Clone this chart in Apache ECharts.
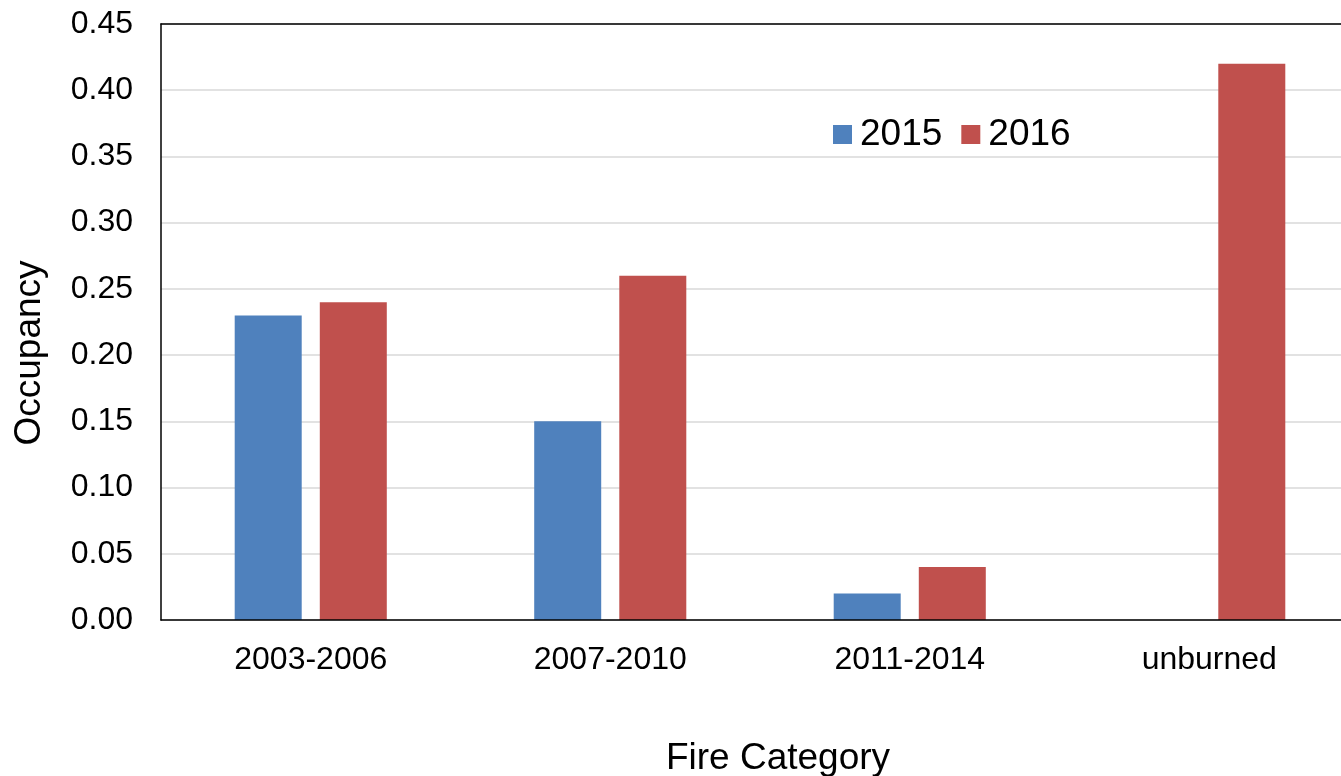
<!DOCTYPE html>
<html>
<head>
<meta charset="utf-8">
<script src="https://cdn.jsdelivr.net/npm/echarts@6/dist/echarts.min.js"></script>
<style>
html,body{margin:0;padding:0;background:#fff;overflow:hidden;width:1341px;height:776px;}
#chart{width:1380px;height:776px;}
</style>
</head>
<body>
<div id="chart"></div>
<script>
const categories = ['2003-2006', '2007-2010', '2011-2014', 'unburned'];
const seriesNames = ['2015', '2016'];
const values2015 = [0.23, 0.15, 0.02, 0];
const values2016 = [0.24, 0.26, 0.04, 0.42];
const yTicks = { min: 0, max: 0.45, interval: 0.05 };
const yTitle = 'Occupancy';
const xTitle = 'Fire Category';

const FONT = '"Liberation Sans", Arial, sans-serif';
const chart = echarts.init(document.getElementById('chart'), null, { renderer: 'canvas' });
chart.setOption({
  animation: false,
  backgroundColor: '#ffffff',
  textStyle: { fontFamily: FONT },
  grid: { left: 161, top: 24, width: 1198, height: 596, containLabel: false },
  legend: {
    data: seriesNames,
    left: 828, top: 111,
    itemWidth: 19, itemHeight: 19, itemGap: 19,
    icon: 'rect',
    textStyle: { fontSize: 37, color: '#000', fontFamily: FONT, padding: [0, 0, 0, 3] }
  },
  xAxis: [{
    type: 'category',
    data: categories,
    axisLine: { lineStyle: { color: '#000', width: 1.5 } },
    axisTick: { show: false },
    axisLabel: { color: '#000', fontSize: 32, margin: 24, fontFamily: FONT },
    splitLine: { show: false },
    z: 5
  }, {
    type: 'category',
    position: 'top',
    data: categories,
    axisLine: { lineStyle: { color: '#000', width: 1.5 } },
    axisTick: { show: false },
    axisLabel: { show: false },
    splitLine: { show: false },
    z: 5
  }],
  yAxis: {
    type: 'value',
    min: yTicks.min, max: yTicks.max, interval: yTicks.interval,
    axisLine: { show: true, lineStyle: { color: '#000', width: 1.5 } },
    axisTick: { show: false },
    axisLabel: { color: '#000', fontSize: 32, margin: 28, fontFamily: FONT,
                 formatter: v => v.toFixed(2) },
    splitLine: { lineStyle: { color: '#d9d9d9', width: 1.5 } }
  },
  series: [
    { name: seriesNames[0], type: 'bar', data: values2015, barWidth: 67, barGap: '27%',
      itemStyle: { color: '#4f81bd' } },
    { name: seriesNames[1], type: 'bar', data: values2016, barWidth: 67, barGap: '27%',
      itemStyle: { color: '#c0504d' } }
  ],
  graphic: [
    { type: 'text', x: 30, y: 353, rotation: Math.PI / 2,
      style: { text: yTitle, fontSize: 37, fill: '#000', fontFamily: FONT,
               textAlign: 'center', textVerticalAlign: 'middle' } },
    { type: 'text', x: 778, y: 759,
      style: { text: xTitle, fontSize: 37, fill: '#000', fontFamily: FONT,
               textAlign: 'center', textVerticalAlign: 'middle' } }
  ]
});
</script>
</body>
</html>
